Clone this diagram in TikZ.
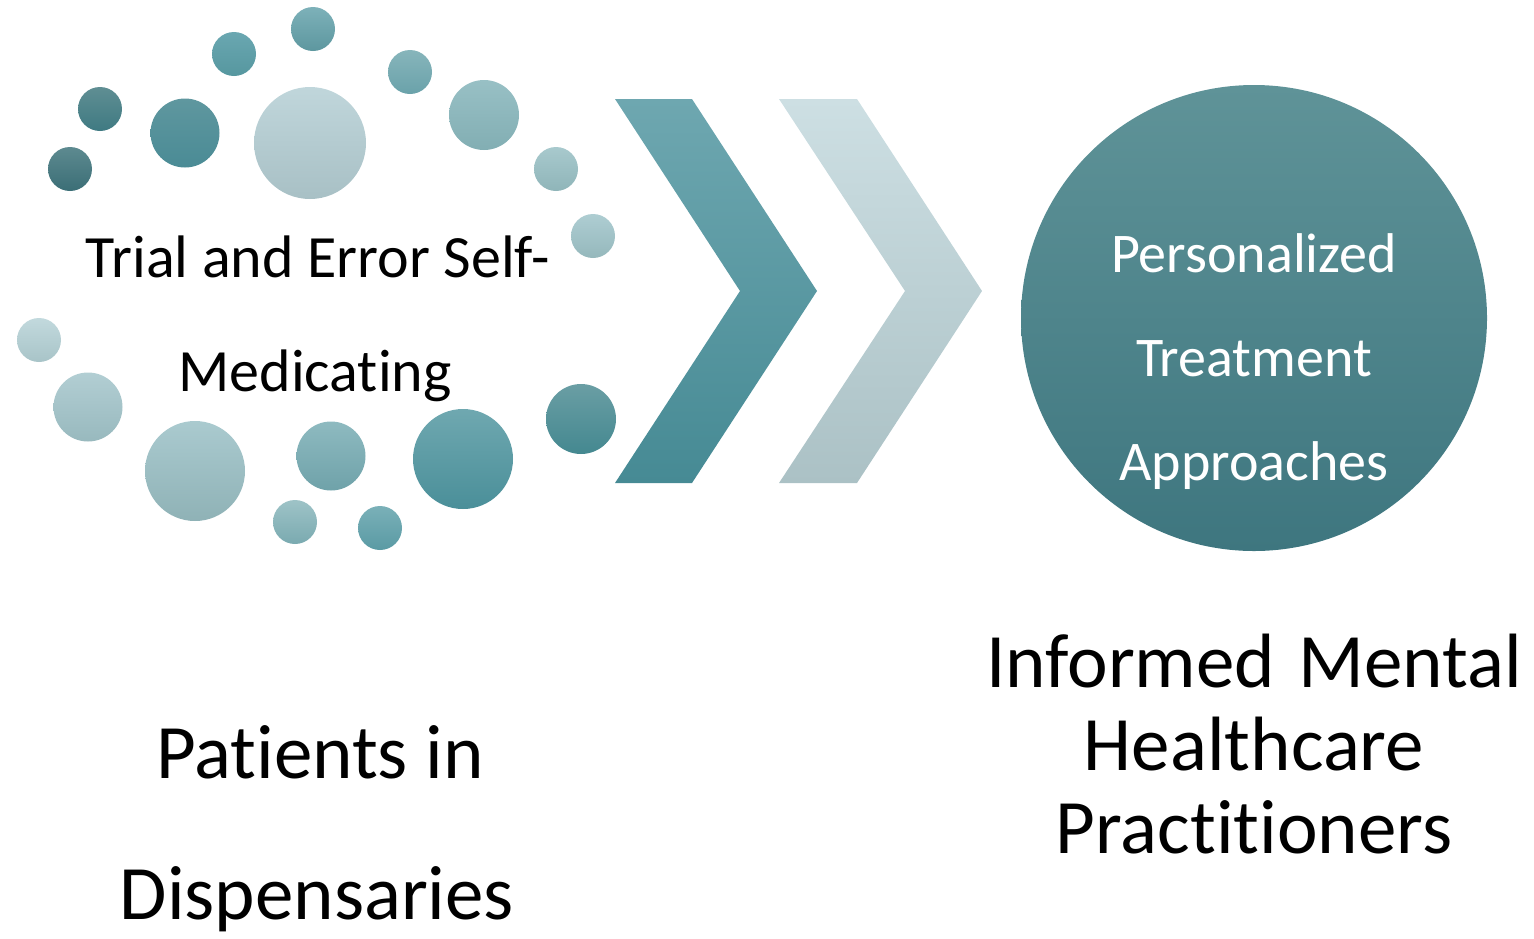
\documentclass[tikz,border=0pt]{standalone}
\usepackage{fontspec}
\setmainfont{Carlito}[Ligatures={NoCommon}]
\begin{document}
\begin{tikzpicture}[x=1pt,y=-1pt,
  lbl/.style={anchor=base,inner sep=0pt,text=black},
  wlbl/.style={anchor=base,inner sep=0pt,text=white},
  small/.style={font=\fontsize{60}{70}\selectfont},
  inner/.style={font=\fontsize{56}{64}\selectfont},
  big/.style={font=\fontsize{77}{90}\selectfont}]
\useasboundingbox (0,0) rectangle (1534,938);
\definecolor{cA1}{HTML}{5F8E93}\definecolor{cA2}{HTML}{3F7A82}
\definecolor{cB1}{HTML}{5D8A90}\definecolor{cB2}{HTML}{3B6E76}
\definecolor{cC1}{HTML}{5F979F}\definecolor{cC2}{HTML}{4A8B95}
\definecolor{cD1}{HTML}{6AA7B1}\definecolor{cD2}{HTML}{56979F}
\definecolor{cE1}{HTML}{7DB1B9}\definecolor{cE2}{HTML}{5D979F}
\definecolor{cF1}{HTML}{C0D6DB}\definecolor{cF2}{HTML}{A8C0C5}
\definecolor{cG1}{HTML}{87B5BB}\definecolor{cG2}{HTML}{6AA2AA}
\definecolor{cH1}{HTML}{98C0C5}\definecolor{cH2}{HTML}{82AEB3}
\definecolor{cI1}{HTML}{A8C9CD}\definecolor{cI2}{HTML}{8FB5B9}
\definecolor{cJ1}{HTML}{AECDD2}\definecolor{cJ2}{HTML}{95B8BC}
\definecolor{cK1}{HTML}{C2D9DD}\definecolor{cK2}{HTML}{A8C4C8}
\definecolor{cL1}{HTML}{B2CED3}\definecolor{cL2}{HTML}{98B9BE}
\definecolor{cM1}{HTML}{AACACF}\definecolor{cM2}{HTML}{8FB2B6}
\definecolor{cN1}{HTML}{8EBAC0}\definecolor{cN2}{HTML}{6FA2A9}
\definecolor{cO1}{HTML}{6FA8B0}\definecolor{cO2}{HTML}{4A8F99}
\definecolor{cP1}{HTML}{6A9EA4}\definecolor{cP2}{HTML}{448890}
\definecolor{cQ1}{HTML}{9EC3C7}\definecolor{cQ2}{HTML}{7AAAB0}
\definecolor{cR1}{HTML}{7AB0B8}\definecolor{cR2}{HTML}{5A9AA4}
\definecolor{chA1}{HTML}{6EA7B0}\definecolor{chA2}{HTML}{569FAB}\definecolor{chA3}{HTML}{468A94}
\definecolor{chB1}{HTML}{CDDFE3}\definecolor{chB2}{HTML}{C0D5DA}\definecolor{chB3}{HTML}{ABC1C5}
\definecolor{bc1}{HTML}{5F9398}\definecolor{bc2}{HTML}{3E767F}
% small circles
\foreach \x/\y/\r/\c in {100/109/22/A, 70/169/22/B, 185/133/34.5/C, 234/54/22/D,
  313/29/22/E, 310/143/56/F, 410/72/22/G, 484/115/35/H, 556/169/22/I,
  593/236/22/J, 39/340/22/K, 88/407/34.5/L, 195/471/50/M, 331/456/34.5/N,
  463/459/50/O, 581/419/35/P, 295/522/22/Q, 380/528/22/R}
  \shade[top color=c\c1,bottom color=c\c2] (\x,\y) circle (\r);
% chevrons
\shade[top color=chA1,middle color=chA2,bottom color=chA3]
  (615,99) -- (692,99) -- (817,291) -- (692,483) -- (615,483) -- (740,291) -- cycle;
\shade[top color=chB1,middle color=chB2,bottom color=chB3]
  (779,99) -- (857,99) -- (982,291) -- (857,483) -- (779,483) -- (905,291) -- cycle;
% big circle
\shade[top color=bc1,bottom color=bc2] (1254,318) circle (233);
% texts
\node[lbl,small] (t1) at (318,277) {Trial and Error Self-};
\node[lbl,small] (t2) at (315,391) {Medicating};
\node[wlbl,inner] (p1) at (1254,272) {Personalized};
\node[wlbl,inner] (p2) at (1254,376) {Treatment};
\node[wlbl,inner] (p3) at (1254,480) {Approaches};
\node[lbl,big] (b1) at (320,778) {Patients in};
\node[lbl,big] (b2) at (317,919) {Dispensaries};
\node[lbl,big] (r1) at (1254,687) {Informed\hspace{6pt} Mental};
\node[lbl,big] (r2) at (1254,770) {Healthcare};
\node[lbl,big] (r3) at (1254,853) {Practitioners};
\end{tikzpicture}
\end{document}
